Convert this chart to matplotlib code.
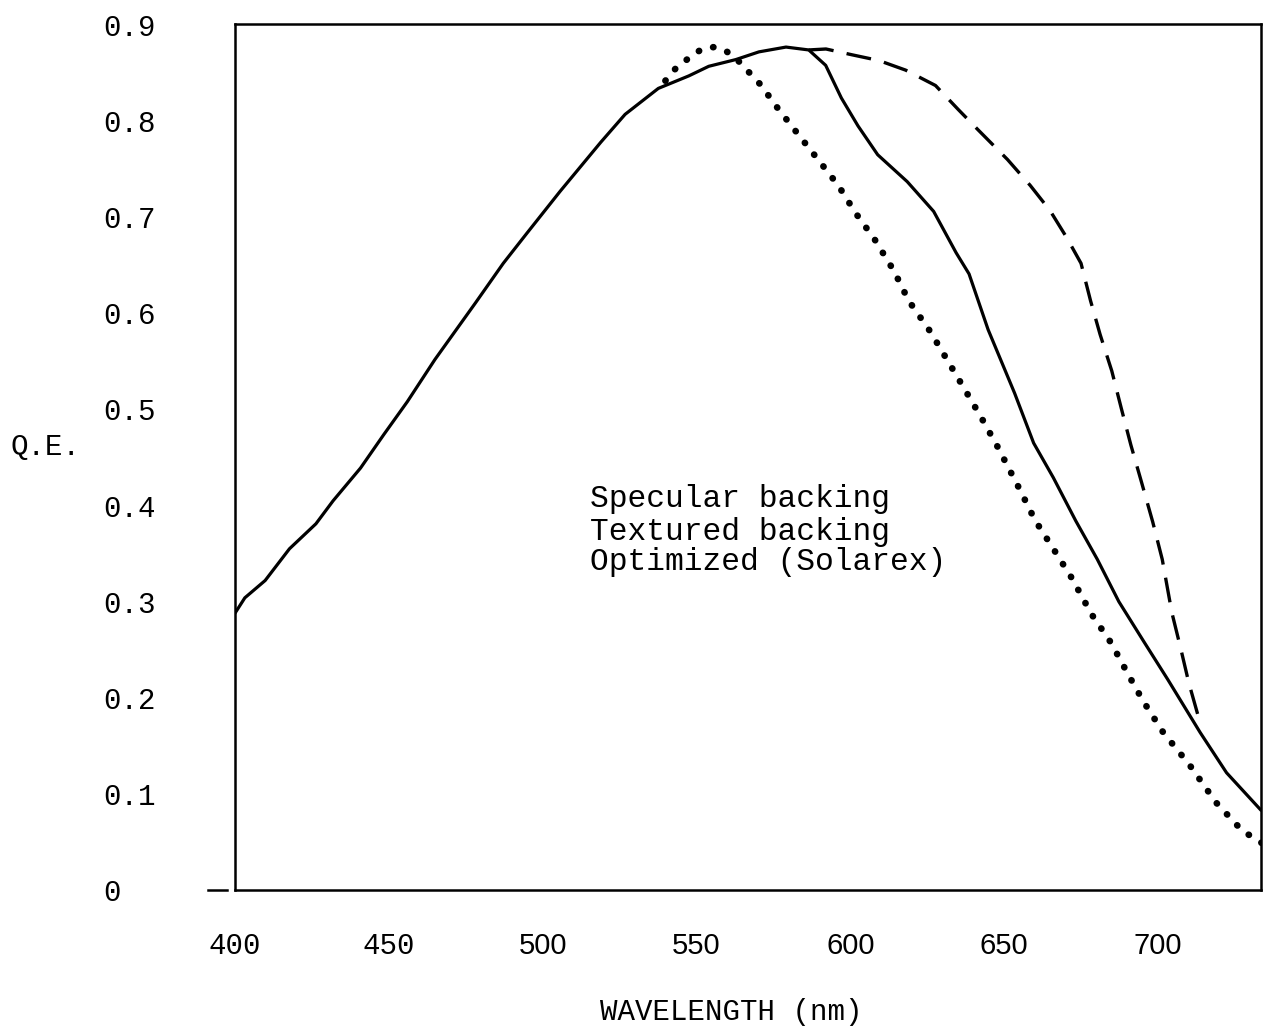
import matplotlib
matplotlib.use("Agg")
import matplotlib.pyplot as plt
from matplotlib.lines import Line2D

# ---------------- data ----------------
textured_nm = [400.0, 403.2, 409.8, 417.7, 426.3, 431.9, 440.8, 448.4, 456.0, 465.0,
               478.2, 487.2, 494.8, 505.7, 518.9, 526.8, 537.6, 547.5, 554.0, 562.8,
               570.3, 579.1, 586.5, 592.0, 597.1, 602.5, 608.9, 618.5, 627.1, 634.4,
               638.6, 644.8, 653.4, 659.6, 666.0, 673.3, 680.3, 687.3, 695.5, 703.2,
               713.7, 722.3, 733.5]
textured_qe = [0.288, 0.304, 0.322, 0.355, 0.381, 0.405, 0.439, 0.474, 0.508, 0.552,
               0.611, 0.652, 0.683, 0.727, 0.778, 0.807, 0.834, 0.847, 0.857, 0.864,
               0.872, 0.877, 0.874, 0.858, 0.824, 0.795, 0.765, 0.737, 0.706, 0.663,
               0.641, 0.583, 0.517, 0.465, 0.429, 0.384, 0.344, 0.300, 0.258, 0.219,
               0.164, 0.122, 0.083]

specular_nm = [539.9, 543.3, 548.5, 551.8, 555.7, 559.6, 563.8, 570.8, 576.5, 583.6,
               590.0, 596.1, 601.8, 607.9, 614.2, 619.0, 626.0, 631.4, 636.8, 642.5,
               647.9, 655.2, 660.0, 666.4, 672.1, 678.4, 684.8, 690.2, 695.3, 701.7,
               710.3, 718.9, 727.3, 733.7]
specular_qe = [0.842, 0.855, 0.868, 0.875, 0.877, 0.873, 0.862, 0.838, 0.813, 0.784,
               0.758, 0.733, 0.704, 0.677, 0.644, 0.613, 0.581, 0.552, 0.523, 0.492,
               0.461, 0.416, 0.385, 0.353, 0.324, 0.287, 0.257, 0.225, 0.196, 0.164,
               0.130, 0.091, 0.062, 0.049]

optimized_nm = [586.5, 592.1, 600.5, 609.3, 618.0, 627.7, 635.1, 641.5, 651.1, 658.5,
                664.9, 670.3, 675.0, 678.1, 681.2, 685.0, 688.1, 691.2, 694.6, 698.3,
                701.4, 704.5, 707.5, 710.0, 713.7]
optimized_qe = [0.874, 0.875, 0.869, 0.863, 0.853, 0.837, 0.812, 0.791, 0.760, 0.733,
                0.707, 0.679, 0.652, 0.613, 0.578, 0.540, 0.501, 0.463, 0.425, 0.383,
                0.344, 0.289, 0.250, 0.216, 0.174]

x_ticks = [400, 450, 500, 550, 600, 650, 700]
x_tick_labels = ["400", "450", "500", "550", "600", "650", "700"]
y_ticks = [0, 0.1, 0.2, 0.3, 0.4, 0.5, 0.6, 0.7, 0.8, 0.9]
y_tick_labels = ["0", "0.1", "0.2", "0.3", "0.4", "0.5", "0.6", "0.7", "0.8", "0.9"]
legend_lines = ["Specular backing", "Textured backing", "Optimized (Solarex)"]

MONO = "Liberation Mono"
SANS = "Liberation Sans"

# ---------------- figure ----------------
fig = plt.figure(figsize=(12.64, 10.27), dpi=100)
ax = fig.add_axes([235 / 1264, 137 / 1027, 1026 / 1264, 866 / 1027])

ax.plot(textured_nm, textured_qe, color="black", lw=2.3,
        solid_capstyle="round", solid_joinstyle="round")
ax.plot(specular_nm, specular_qe, color="black", lw=4.8,
        linestyle=(0, (0.05, 2.2)), dash_capstyle="round")
ax.plot(optimized_nm, optimized_qe, color="black", lw=2.4,
        linestyle=(0, (7.5, 4.0)), dash_capstyle="butt")

ax.set_xlim(400, 733.5)
ax.set_ylim(0, 0.901)

for s in ax.spines.values():
    s.set_linewidth(1.8)
    s.set_color("black")

ax.set_xticks(x_ticks)
ax.set_xticklabels(x_tick_labels)
ax.set_yticks(y_ticks)
ax.set_yticklabels(y_tick_labels)
ax.tick_params(axis="both", length=0)
ax.tick_params(axis="x", pad=30)
ax.tick_params(axis="y", pad=95)

for i, lab in enumerate(ax.get_xticklabels()):
    lab.set_fontsize(21)
    lab.set_family(MONO if i < 2 else SANS)
for lab in ax.get_yticklabels():
    lab.set_fontsize(21)
    lab.set_family(MONO)
    lab.set_horizontalalignment("left")

# small tick mark at zero, left of the axis
ax.add_line(Line2D([-0.0265, -0.0075], [0, 0], transform=ax.transAxes,
                   color="black", lw=1.8, clip_on=False))

ax.set_xlabel("WAVELENGTH (nm)", fontsize=21, family=MONO, va="center")
ax.xaxis.set_label_coords(0.484, -0.141)
ax.set_ylabel("Q.E.", fontsize=21, family=MONO, rotation=0, ha="left", va="center")
ax.yaxis.set_label_coords(-0.219, 0.5115)

for txt, yb in zip(legend_lines, [0.442, 0.404, 0.3695]):
    ax.text(0.346, yb, txt, transform=ax.transAxes, fontsize=22.5,
            family=MONO, ha="left", va="baseline")

fig.savefig("out.png", dpi=100, facecolor="white")
